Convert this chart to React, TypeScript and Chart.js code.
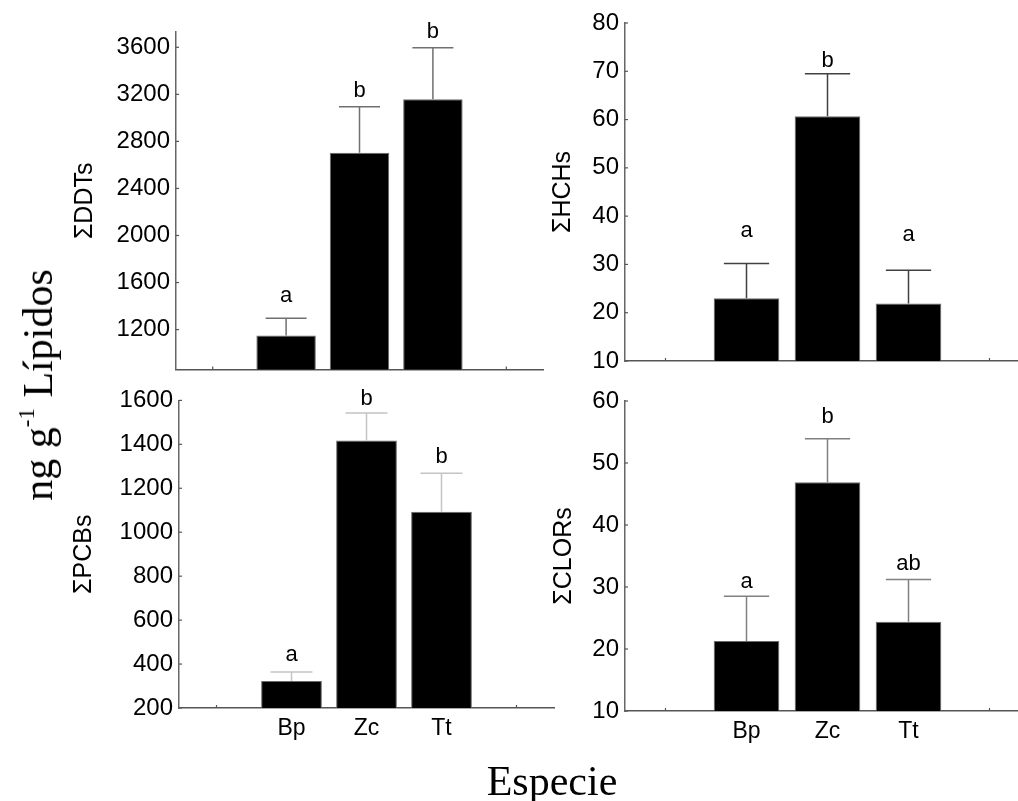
import React, { useEffect, useRef } from 'react';
import { Chart, registerables } from 'chart.js';

Chart.register(...registerables);

// ---------- data ----------
const categories = ['', 'Bp', 'Zc', 'Tt', ''];

const ddtMean = [1149, 2704, 3159];
const ddtUpper = [1296, 3094, 3597];
const ddtLetters = ['a', 'b', 'b'];
const ddtLetterAt = [1437, 3176, 3677];
const ddtTicks = [1200, 1600, 2000, 2400, 2800, 3200, 3600];

const hchMean = [23.0, 60.7, 21.9];
const hchUpper = [30.2, 69.5, 28.8];
const hchLetters = ['a', 'b', 'a'];
const hchLetterAt = [35.7, 70.8, 34.8];
const hchTicks = [10, 20, 30, 40, 50, 60, 70, 80];

const pcbMean = [323, 1418, 1093];
const pcbUpper = [364, 1543, 1268];
const pcbLetters = ['a', 'b', 'b'];
const pcbLetterAt = [415, 1579, 1317];
const pcbTicks = [200, 400, 600, 800, 1000, 1200, 1400, 1600];

const clorMean = [21.3, 46.9, 24.4];
const clorUpper = [28.5, 53.9, 31.2];
const clorLetters = ['a', 'b', 'ab'];
const clorLetterAt = [29.8, 56.4, 32.7];
const clorTicks = [10, 20, 30, 40, 50, 60];

const SANS = '"Liberation Sans", Arial, sans-serif';
const SERIF = '"Liberation Serif", "Times New Roman", serif';

const pad = (arr: any[]) => [null, ...arr, null];

type Panel = {
  title: string;
  mean: number[];
  upper: number[];
  letters: string[];
  letterAt: number[];
  ticks: number[];
  min: number;
  max: number;
  showX: boolean;
  errColor: string;
  box: { left: number; top: number; width: number; height: number };
  yWidth: number;
  xHeight: number;
  padTop: number;
  padRight: number;
  titlePad: number;
};

const panels: Panel[] = [
  {
    title: 'ΣDDTs', mean: ddtMean, upper: ddtUpper, letters: ddtLetters, letterAt: ddtLetterAt,
    ticks: ddtTicks, min: 860, max: 3730, showX: false, errColor: '#707070',
    box: { left: 0, top: 0, width: 560, height: 390 }, yWidth: 176, xHeight: 20, padTop: 32, padRight: 17, titlePad: 70,
  },
  {
    title: 'ΣHCHs', mean: hchMean, upper: hchUpper, letters: hchLetters, letterAt: hchLetterAt,
    ticks: hchTicks, min: 10, max: 80, showX: false, errColor: '#404040',
    box: { left: 530, top: 0, width: 500, height: 390 }, yWidth: 95, xHeight: 29, padTop: 23, padRight: 0, titlePad: 18,
  },
  {
    title: 'ΣPCBs', mean: pcbMean, upper: pcbUpper, letters: pcbLetters, letterAt: pcbLetterAt,
    ticks: pcbTicks, min: 200, max: 1600, showX: true, errColor: '#c4c4c4',
    box: { left: 0, top: 380, width: 570, height: 421 }, yWidth: 179, xHeight: 93, padTop: 13, padRight: 16, titlePad: 69,
  },
  {
    title: 'ΣCLORs', mean: clorMean, upper: clorUpper, letters: clorLetters, letterAt: clorLetterAt,
    ticks: clorTicks, min: 10, max: 60, showX: true, errColor: '#808080',
    box: { left: 530, top: 380, width: 500, height: 421 }, yWidth: 95, xHeight: 90, padTop: 21, padRight: 0, titlePad: 19,
  },
];

const decorPlugin = {
  id: 'decor',
  beforeDatasetsDraw(chart: any) {
    const ctx = chart.ctx;
    const xs = chart.scales.x;
    const ys = chart.scales.y;
    const area = chart.chartArea;
    ctx.save();
    ctx.strokeStyle = '#555';
    ctx.lineWidth = 1.2;
    categories.forEach((_, i) => {
      const px = xs.getPixelForValue(i);
      ctx.beginPath();
      ctx.moveTo(px, area.bottom);
      ctx.lineTo(px, area.bottom - 3);
      ctx.stroke();
    });
    ys.ticks.forEach((t: any) => {
      const py = ys.getPixelForValue(t.value);
      ctx.beginPath();
      ctx.moveTo(area.left, py);
      ctx.lineTo(area.left + 3, py);
      ctx.stroke();
    });
    ctx.restore();
  },
  afterDatasetsDraw(chart: any, _args: any, opts: any) {
    const ctx = chart.ctx;
    const ys = chart.scales.y;
    const meta = chart.getDatasetMeta(0);
    ctx.save();
    meta.data.forEach((bar: any, i: number) => {
      const upper = opts.upper[i];
      if (upper == null) return;
      const p = bar.getProps(['x', 'y', 'width'], true);
      const ey = ys.getPixelForValue(upper);
      const half = p.width * 0.345;
      ctx.strokeStyle = opts.errColor;
      ctx.lineWidth = 1.5;
      ctx.beginPath();
      ctx.moveTo(p.x, p.y);
      ctx.lineTo(p.x, ey);
      ctx.moveTo(p.x - half, ey);
      ctx.lineTo(p.x + half, ey);
      ctx.stroke();
      ctx.fillStyle = '#000';
      ctx.font = `22px ${SANS}`;
      ctx.textAlign = 'center';
      ctx.textBaseline = 'alphabetic';
      ctx.fillText(opts.letters[i], p.x, ys.getPixelForValue(opts.letterAt[i]));
    });
    ctx.restore();
  },
};

function PanelChart({ panel }: { panel: Panel }) {
  const ref = useRef<HTMLCanvasElement | null>(null);
  useEffect(() => {
    if (!ref.current) return;
    const chart = new Chart(ref.current, {
      type: 'bar',
      data: {
        labels: categories,
        datasets: [
          {
            data: pad(panel.mean),
            backgroundColor: '#000',
            borderColor: '#6a6a6a',
            borderWidth: 1,
            barPercentage: 0.81,
            categoryPercentage: 1,
          },
        ],
      },
      options: {
        responsive: false,
        animation: false,
        devicePixelRatio: 1,
        layout: { padding: { left: 0, top: panel.padTop, right: panel.padRight, bottom: 0 } },
        plugins: {
          legend: { display: false },
          tooltip: { enabled: false },
          decor: {
            upper: pad(panel.upper),
            letters: pad(panel.letters),
            letterAt: pad(panel.letterAt),
            errColor: panel.errColor,
          },
        } as any,
        scales: {
          x: {
            type: 'category',
            offset: true,
            grid: { display: false, drawTicks: false },
            border: { display: true, color: '#555', width: 1.5 },
            ticks: {
              display: panel.showX,
              autoSkip: false,
              maxRotation: 0,
              color: '#000',
              padding: 7,
              font: { family: SANS, size: 23 },
            },
            afterFit: (s: any) => {
              s.height = panel.xHeight;
            },
          },
          y: {
            type: 'linear',
            min: panel.min,
            max: panel.max,
            grid: { display: false, drawTicks: false },
            border: { display: true, color: '#666', width: 1.5 },
            afterBuildTicks: (s: any) => {
              s.ticks = panel.ticks.map((v) => ({ value: v }));
            },
            ticks: {
              color: '#000',
              padding: 6,
              font: { family: SANS, size: 24 },
              callback: (v: any) => String(v),
            },
            title: {
              display: true,
              text: panel.title,
              color: '#000',
              font: { family: SANS, size: 25 },
              padding: { top: panel.titlePad, bottom: 0 },
            },
            afterFit: (s: any) => {
              s.width = panel.yWidth;
            },
          },
        },
      },
      plugins: [decorPlugin],
    } as any);
    return () => chart.destroy();
  }, [panel]);
  const b = panel.box;
  return (
    <canvas
      ref={ref}
      width={b.width}
      height={b.height}
      style={{ position: 'absolute', left: b.left, top: b.top, width: b.width, height: b.height }}
    />
  );
}

export default function App() {
  return (
    <div
      style={{
        position: 'fixed',
        left: 0,
        top: 0,
        width: 1018,
        height: 801,
        overflow: 'hidden',
        background: '#fff',
      }}
    >
      {panels.map((p, i) => (
        <PanelChart key={i} panel={p} />
      ))}
      <div
        style={{
          position: 'absolute',
          left: 38,
          top: 385,
          transform: 'translate(-50%, -50%) rotate(-90deg)',
          whiteSpace: 'nowrap',
          fontFamily: SERIF,
          fontSize: 42,
          lineHeight: 1,
          color: '#000',
        }}
      >
        ng g<sup style={{ fontSize: 23, verticalAlign: 'top', position: 'relative', top: -2 }}>-1</sup> Lípidos
      </div>
      <div
        style={{
          position: 'absolute',
          left: 552,
          top: 760,
          transform: 'translateX(-50%)',
          whiteSpace: 'nowrap',
          fontFamily: SERIF,
          fontSize: 42,
          lineHeight: 1,
          color: '#000',
        }}
      >
        Especie
      </div>
    </div>
  );
}
